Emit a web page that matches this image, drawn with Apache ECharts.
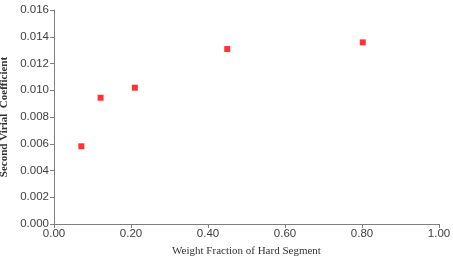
<!DOCTYPE html>
<html>
<head>
<meta charset="utf-8">
<script src="https://cdn.jsdelivr.net/npm/echarts@6/dist/echarts.min.js"></script>
<style>
  html, body { margin: 0; padding: 0; background: #fff; }
  #chart { width: 453px; height: 264px; }
</style>
</head>
<body>
<div id="chart"></div>
<script>
// weight fraction of hard segment vs second virial coefficient
var weightFraction = [0.071, 0.121, 0.210, 0.450, 0.802]
var virialCoef = [0.00581, 0.00944, 0.01019, 0.01308, 0.01358]

var points = weightFraction.map(function (x, i) { return [x, virialCoef[i]] })

var chart = echarts.init(document.getElementById('chart'))
var axisColor = '#7f7f7f'
var labelColor = '#404040'

var option = {
  animation: false,
  grid: { left: 54, right: 14, top: 10, bottom: 40, containLabel: false, outerBoundsMode: 'none' },
  xAxis: {
    type: 'value',
    min: 0,
    max: 1,
    interval: 0.2,
    name: 'Weight Fraction of Hard Segment',
    nameLocation: 'middle',
    nameGap: 22,
    nameTextStyle: { fontFamily: 'Liberation Serif', fontSize: 11, color: '#333' },
    axisLine: { lineStyle: { color: axisColor } },
    axisTick: { lineStyle: { color: axisColor }, length: 4 },
    axisLabel: {
      fontFamily: 'Liberation Sans', fontSize: 11.5, color: labelColor, margin: 4,
      formatter: function (v) { return v.toFixed(2) }
    },
    splitLine: { show: false }
  },
  yAxis: {
    type: 'value',
    min: 0,
    max: 0.016,
    interval: 0.002,
    name: 'Second Virial  Coefficient',
    nameLocation: 'middle',
    nameGap: 44,
    nameTextStyle: { fontFamily: 'Liberation Serif', fontSize: 11, fontWeight: 'bold', color: '#333' },
    axisLine: { show: true, lineStyle: { color: axisColor } },
    axisTick: { show: true, lineStyle: { color: axisColor }, length: 4 },
    axisLabel: {
      fontFamily: 'Liberation Sans', fontSize: 11.5, color: labelColor, margin: 5,
      formatter: function (v) { return v.toFixed(3) }
    },
    splitLine: { show: false }
  },
  series: [{
    type: 'scatter',
    data: points,
    symbol: 'rect',
    symbolSize: 6,
    itemStyle: { color: '#ff0000' }
  }]
}
chart.setOption(option)
</script>
</body>
</html>
